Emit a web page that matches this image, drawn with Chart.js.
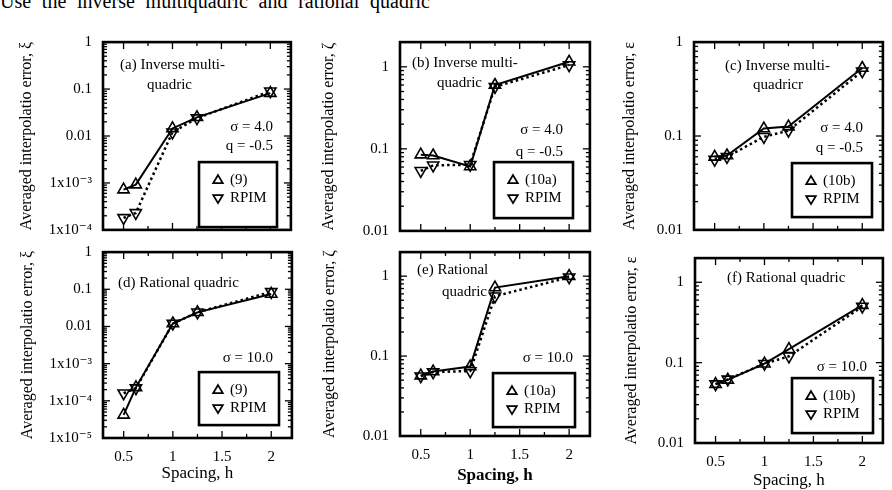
<!DOCTYPE html>
<html><head><meta charset="utf-8">
<script src="https://cdn.jsdelivr.net/npm/chart.js@4/dist/chart.umd.min.js"></script>
<style>
html,body{margin:0;padding:0;background:#fff;width:892px;height:490px;overflow:hidden;position:relative;}
canvas{position:absolute;}
#note{position:absolute;left:0;top:-9px;width:430px;font:20px/20px "Liberation Serif","DejaVu Serif",serif;color:#000;text-align:justify;text-align-last:justify;}
</style></head><body>
<div id="note">Use the inverse multiquadric and rational quadric</div>
<script>
// ---- data ----
const spacingH = [0.5, 0.625, 1.0, 1.25, 2.0];
// (a) inverse multiquadric, error xi
const errA_eq9  = [7.2e-4, 9.2e-4, 0.0145, 0.025, 0.082];
const errA_rpim = [1.8e-4, 2.3e-4, 0.012, 0.024, 0.09];
// (b) inverse multiquadric, error zeta
const errB_eq10a = [0.085, 0.083, 0.061, 0.60, 1.15];
const errB_rpim  = [0.054, 0.063, 0.064, 0.57, 1.05];
// (c) inverse multiquadric, error epsilon
const errC_eq10b = [0.060, 0.062, 0.120, 0.126, 0.53];
const errC_rpim  = [0.056, 0.060, 0.098, 0.114, 0.49];
// (d) rational quadric, error xi
const errD_eq9  = [4.2e-5, 2.3e-4, 0.012, 0.024, 0.075];
const errD_rpim = [1.6e-4, 2.2e-4, 0.012, 0.024, 0.085];
// (e) rational quadric, error zeta
const errE_eq10a = [0.057, 0.064, 0.074, 0.72, 1.0];
const errE_rpim  = [0.056, 0.063, 0.065, 0.56, 0.97];
// (f) rational quadric, error epsilon
const errF_eq10b = [0.054, 0.061, 0.097, 0.147, 0.52];
const errF_rpim  = [0.054, 0.062, 0.097, 0.120, 0.50];

const xTickValues = [0.5, 1, 1.5, 2];
const xTickLabels = ['0.5', '1', '1.5', '2'];
const yTicksA = [1e-4, 1e-3, 0.01, 0.1, 1];
const yLabelsA = ['1x10\u207B\u2074', '1x10\u207B\u00B3', '0.01', '0.1', '1'];
const yTicksD = [1e-5, 1e-4, 1e-3, 0.01, 0.1, 1];
const yLabelsD = ['1x10\u207B\u2075', '1x10\u207B\u2074', '1x10\u207B\u00B3', '0.01', '0.1', '1'];
const yTicks3 = [0.01, 0.1, 1];
const yLabels3 = ['0.01', '0.1', '1'];

const SERIF = "'Liberation Serif', 'DejaVu Serif', serif";

const panels = [
 {L:103,T:42,R:291,B:230, ymin:1e-4,ymax:1, yt:yTicksA, yl:yLabelsA, ytitle:'Averaged interpolatio error, \u03BE', tcx:27,
  main:errA_eq9, rpim:errA_rpim, mainLabel:'(9)', xlab:false,
  notes:[{t:'(a) Inverse multi-',dx:17,dy:23,al:'left'},{t:'quadric',dx:44,dy:43,al:'left'},{t:'\u03C3 = 4.0',dx:170,dy:85,al:'right'},{t:'q = -0.5',dx:170,dy:104,al:'right'}],
  leg:{dx:96,dy:120,w:78,h:65}},
 {L:400,T:42,R:590,B:231, ymin:0.01,ymax:2, yt:yTicks3, yl:yLabels3, ytitle:'Averaged interpolatio error, \u03B6', tcx:329,
  main:errB_eq10a, rpim:errB_rpim, mainLabel:'(10a)', xlab:false,
  notes:[{t:'(b) Inverse multi-',dx:12,dy:21,al:'left'},{t:'quadric',dx:37,dy:41,al:'left'},{t:'\u03C3 = 4.0',dx:163,dy:88,al:'right'},{t:'q = -0.5',dx:163,dy:110,al:'right'}],
  leg:{dx:94,dy:120,w:79,h:56}},
 {L:694,T:42,R:883,B:230, ymin:0.01,ymax:1, yt:yTicks3, yl:yLabels3, ytitle:'Averaged interpolatio error, \u03B5', tcx:630,
  main:errC_eq10b, rpim:errC_rpim, mainLabel:'(10b)', xlab:false,
  notes:[{t:'(c) Inverse multi-',dx:31,dy:24,al:'left'},{t:'quadricr',dx:59,dy:43,al:'left'},{t:'\u03C3 = 4.0',dx:169,dy:86,al:'right'},{t:'q = -0.5',dx:169,dy:106,al:'right'}],
  leg:{dx:98,dy:121,w:80,h:54}},
 {L:103,T:252,R:292,B:438, ymin:1e-5,ymax:1, yt:yTicksD, yl:yLabelsD, ytitle:'Averaged interpolatio error, \u03BE', tcx:28,
  main:errD_eq9, rpim:errD_rpim, mainLabel:'(9)', xlab:true, xcy:474, xbold:false,
  notes:[{t:'(d) Rational quadric',dx:15,dy:31,al:'left'},{t:'\u03C3 = 10.0',dx:170,dy:106,al:'right'}],
  leg:{dx:96,dy:120,w:80,h:53}},
 {L:400,T:252,R:590,B:436, ymin:0.01,ymax:2, yt:yTicks3, yl:yLabels3, ytitle:'Averaged interpolatio error, \u03B6', tcx:330,
  main:errE_eq10a, rpim:errE_rpim, mainLabel:'(10a)', xlab:true, xcy:476, xbold:true,
  notes:[{t:'(e) Rational',dx:17,dy:18,al:'left'},{t:'quadric',dx:42,dy:40,al:'left'},{t:'\u03C3 = 10.0',dx:173,dy:106,al:'right'}],
  leg:{dx:93,dy:121,w:82,h:54}},
 {L:695,T:258,R:883,B:443, ymin:0.01,ymax:2, yt:yTicks3, yl:yLabels3, ytitle:'Averaged interpolatio error, \u03B5', tcx:632,
  main:errF_eq10b, rpim:errF_rpim, mainLabel:'(10b)', xlab:true, xcy:481, xbold:false,
  notes:[{t:'(f) Rational quadric',dx:32,dy:20,al:'left'},{t:'\u03C3 = 10.0',dx:172,dy:109,al:'right'}],
  leg:{dx:97,dy:120,w:81,h:55}}
];

function tri(ctx, x, y, r, down) {
  ctx.beginPath();
  const s = down ? -1 : 1;
  ctx.moveTo(x, y - s * r);
  ctx.lineTo(x + r * 0.95, y + s * r * 0.6);
  ctx.lineTo(x - r * 0.95, y + s * r * 0.6);
  ctx.closePath();
  ctx.stroke();
}

function makeFrame(p) {
  return {
    id: 'frame',
    afterDraw(chart) {
      const ctx = chart.ctx;
      const {left, right, top, bottom} = chart.chartArea;
      const xs = chart.scales.x, ys = chart.scales.y;
      ctx.save();
      ctx.strokeStyle = '#000';
      ctx.lineWidth = 1.3;
      const seg = (x1, y1, x2, y2) => { ctx.beginPath(); ctx.moveTo(x1, y1); ctx.lineTo(x2, y2); ctx.stroke(); };
      for (let k = 2; k <= 8; k++) {
        const px = xs.getPixelForValue(k * 0.25);
        const len = (k % 2 === 0) ? 7 : 4;
        seg(px, bottom, px, bottom - len);
        seg(px, top, px, top + len);
      }
      const e0 = Math.floor(Math.log10(p.ymin)), e1 = Math.ceil(Math.log10(p.ymax));
      for (let e = e0; e <= e1; e++) {
        for (let m = 1; m <= 9; m++) {
          const v = m * Math.pow(10, e);
          if (v < p.ymin * 0.999 || v > p.ymax * 1.001) continue;
          const py = ys.getPixelForValue(v);
          const len = m === 1 ? 7 : 4;
          seg(left, py, left + len, py);
          seg(right, py, right - len, py);
        }
      }
      ctx.lineWidth = 2.6;
      ctx.strokeRect(left, top, right - left, bottom - top);
      ctx.fillStyle = '#000';
      ctx.font = '15px ' + SERIF;
      ctx.textBaseline = 'middle';
      p.notes.forEach(n => {
        ctx.textAlign = n.al;
        ctx.fillText(n.t, left + n.dx, top + n.dy);
      });
      const lg = p.leg;
      const bx = left + lg.dx, by = top + lg.dy;
      ctx.fillStyle = '#fff';
      ctx.fillRect(bx, by, lg.w, lg.h);
      ctx.lineWidth = 2.6;
      ctx.strokeRect(bx, by, lg.w, lg.h);
      ctx.lineWidth = 1.8;
      tri(ctx, bx + 19, by + 18, 5, false);
      tri(ctx, bx + 19, by + 36, 5, true);
      ctx.fillStyle = '#000';
      ctx.textAlign = 'left';
      ctx.fillText(p.mainLabel, bx + 31, by + 18);
      ctx.fillText('RPIM', bx + 31, by + 36);
      ctx.restore();
    }
  };
}

function buildChart(cv, p, leftW, bottomH, TOP, RIGHT) {
  return new Chart(cv, {
    type: 'line',
    data: {
      datasets: [
        {label: p.mainLabel, data: spacingH.map((x, i) => ({x: x, y: p.main[i]})),
         borderColor: '#000', borderWidth: 2, pointStyle: 'triangle', pointRadius: 6.5,
         pointBorderWidth: 1.6, pointBackgroundColor: 'rgba(0,0,0,0)', pointBorderColor: '#000',
         fill: false, tension: 0, clip: false},
        {label: 'RPIM', data: spacingH.map((x, i) => ({x: x, y: p.rpim[i]})),
         borderColor: '#000', borderWidth: 2.5, borderDash: [2.5, 3], pointStyle: 'triangle', pointRotation: 180,
         pointRadius: 6.5, pointBorderWidth: 1.6, pointBackgroundColor: 'rgba(0,0,0,0)', pointBorderColor: '#000',
         fill: false, tension: 0, clip: false}
      ]
    },
    options: {
      responsive: false, maintainAspectRatio: false, animation: false, devicePixelRatio: 1, events: [],
      layout: {padding: {top: TOP, right: RIGHT, left: 0, bottom: 0}},
      plugins: {legend: {display: false}, tooltip: {enabled: false}},
      scales: {
        x: {
          type: 'linear', min: 0.29, max: 2.21,
          grid: {display: false, drawTicks: false}, border: {display: false},
          ticks: {display: p.xlab, padding: 10, color: '#000', font: {family: SERIF, size: 15},
                  maxRotation: 0, autoSkip: false,
                  callback: (v) => { const i = xTickValues.indexOf(v); return i >= 0 ? xTickLabels[i] : ''; }},
          title: {display: p.xlab, text: 'Spacing, h', padding: 0, color: '#000',
                  font: {family: SERIF, size: 17, weight: p.xbold ? 'bold' : 'normal'}},
          afterBuildTicks: (s) => { s.ticks = xTickValues.map(v => ({value: v})); },
          afterFit: (s) => { s.height = bottomH; s.paddingLeft = 0; s.paddingRight = 0; s.paddingTop = 0; s.paddingBottom = 0; }
        },
        y: {
          type: 'logarithmic', min: p.ymin, max: p.ymax,
          grid: {display: false, drawTicks: false}, border: {display: false},
          ticks: {padding: 11, color: '#000', font: {family: SERIF, size: 15}, autoSkip: false,
                  callback: (v) => {
                    const i = p.yt.findIndex(t => Math.abs(Math.log10(t) - Math.log10(v)) < 1e-6);
                    return i >= 0 ? p.yl[i] : '';
                  }},
          title: {display: true, text: p.ytitle, padding: 0, color: '#000', font: {family: SERIF, size: 16}},
          afterBuildTicks: (s) => { s.ticks = p.yt.map(v => ({value: v})); },
          afterFit: (s) => { s.width = leftW; s.paddingTop = 0; s.paddingBottom = 0; s.paddingLeft = 0; s.paddingRight = 0; }
        }
      }
    },
    plugins: [makeFrame(p)]
  });
}

panels.forEach(p => {
  const TOP = 8, RIGHT = 8;
  const canvasLeft = Math.round(p.tcx - 16 * 1.2 / 2);
  const leftW = p.L - canvasLeft;
  const bottomH = p.xlab ? Math.round(p.xcy + 17 * 1.2 / 2 - p.B) : 3;
  let w = leftW + (p.R - p.L) + RIGHT;
  let h = TOP + (p.B - p.T) + bottomH;
  const cv = document.createElement('canvas');
  cv.width = w; cv.height = h;
  cv.style.width = w + 'px'; cv.style.height = h + 'px';
  cv.style.left = canvasLeft + 'px'; cv.style.top = (p.T - TOP) + 'px';
  document.body.appendChild(cv);
  let chart = buildChart(cv, p, leftW, bottomH, TOP, RIGHT);
  const ca = chart.chartArea;
  const dW = Math.round((p.R - p.L) - (ca.right - ca.left));
  const dH = Math.round((p.B - p.T) - (ca.bottom - ca.top));
  if (dW !== 0 || dH !== 0) {
    chart.destroy();
    w += dW; h += dH;
    cv.width = w; cv.height = h;
    cv.style.width = w + 'px'; cv.style.height = h + 'px';
    chart = buildChart(cv, p, leftW, bottomH, TOP, RIGHT);
  }
  const ca2 = chart.chartArea;
  cv.style.left = Math.round(p.L - ca2.left) + 'px';
  cv.style.top = Math.round(p.T - ca2.top) + 'px';
});
</script>
</body></html>
